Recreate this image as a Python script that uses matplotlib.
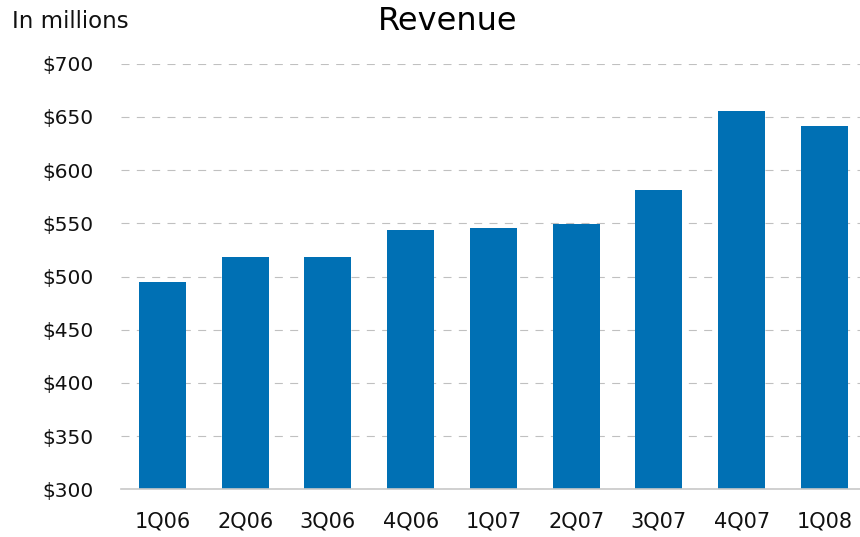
import matplotlib
matplotlib.use("Agg")
import matplotlib.pyplot as plt
from matplotlib.ticker import FuncFormatter, MultipleLocator

categories = ["1Q06", "2Q06", "3Q06", "4Q06", "1Q07", "2Q07", "3Q07", "4Q07", "1Q08"]
revenue = [495, 518, 518, 544, 546, 549, 581, 656, 641]

plt.rcParams['font.family'] = ['DejaVu Sans']

fig = plt.figure(figsize=(8.6, 5.37), dpi=100)
W, H = 860, 537
ax_left = 121 / W
ax_bottom = 1 - 489.3 / H
ax_top = 1 - 63.7 / H
ax = fig.add_axes([ax_left, ax_bottom, 1 - ax_left, ax_top - ax_bottom])

x = list(range(len(categories)))
ax.bar(x, [v - 300 for v in revenue], bottom=300, width=0.57, color="#0070B4", zorder=3)

ax.set_ylim(300, 700)
ax.set_xlim(-0.5, 8.43)
ax.yaxis.set_major_locator(MultipleLocator(50))
ax.yaxis.set_major_formatter(FuncFormatter(lambda v, p: f"${v:.0f}"))
ax.set_xticks(x)
ax.set_xticklabels(categories)

ax.grid(axis="y", color="#c0c0c0", linestyle=(0, (7.2, 6.6)), linewidth=0.8, zorder=0)
ax.grid(axis="x", visible=False)
for s in ["top", "right", "left"]:
    ax.spines[s].set_visible(False)
ax.spines["bottom"].set_color("#c8c8c8")
ax.spines["bottom"].set_linewidth(1.2)
ax.spines["bottom"].set_zorder(4)

ax.tick_params(axis="y", length=0, pad=19.5, labelsize=14.5, labelcolor="#111111")
ax.tick_params(axis="x", length=0, pad=16, labelsize=15, labelcolor="#111111")

fig.text(448 / W, 1 - 21 / H, "Revenue", ha="center", va="center", fontsize=23, color="#000000")
fig.text(12 / W, 1 - 21 / H, "In millions", ha="left", va="center", fontsize=16.5, color="#111111")

fig.savefig("out.png", dpi=100)
